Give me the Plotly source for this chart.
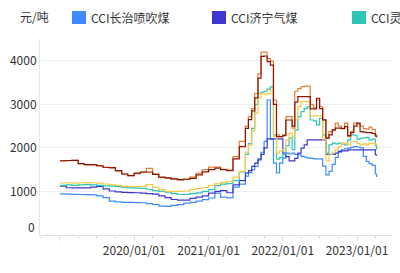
import plotly.graph_objects as go

# ---- data ----
dates = ([f"{y}-{m:02d}-01" for y in (2019, 2020) for m in range(1, 13)]
         + [f"2021-{m:02d}-01" for m in range(1, 7)])
dates += [f"{y}-{m:02d}-{d}" for (y, m) in
          [(2021, m) for m in range(7, 13)] + [(2022, m) for m in range(1, 13)] + [(2023, m) for m in range(1, 4)]
          for d in ("01", "16")]
dates += ["2023-04-01", "2023-04-07"]

series_names = ["CCI长治喷吹煤", "CCI济宁气煤", "CCI灵石肥煤", "CCI吕梁1/3焦煤", "CCI柳林低硫主焦", "CCI柳林高硫主焦"]
series_colors = ["#3D8BFF", "#3E37CF", "#2DC6B4", "#F7C948", "#E5803B", "#8B1500"]

blue = [943,940,935,930,925,920,900,860,780,760,751,750,745,740,720,700,665,659,680,698,730,751,780,812,850,960,870,851,1100,1170,
        1350,1430,1500,1574,1750,1900,2150,3100,2200,1650,1423,1650,1766,1880,1860,1880,1850,1842,1803,1790,1766,1760,1750,1750,1750,1580,1380,1460,1620,1780,1900,1956,1980,1995,2010,2032,2020,2000,1803,1689,1640,1600,
        1400,1332]
indigo = [1120,1085,1080,1080,1080,1100,1117,1060,1010,990,980,975,970,960,950,940,900,860,815,800,800,840,870,900,960,1003,1018,970,1150,1250,
          1420,1480,1574,1650,1727,1850,2000,2208,2208,2208,2208,2208,1880,1800,1700,1700,1760,1880,1995,2071,2185,2185,2185,2185,2185,2185,1850,1850,1850,1880,1918,1930,1930,1956,1956,1956,1956,1956,1956,1956,1956,1956,
          1842,1820]
teal = [1140,1150,1140,1150,1155,1150,1140,1130,1120,1110,1085,1080,1075,1070,1050,1020,1000,985,950,930,935,950,965,1000,1040,1133,1170,1180,1250,1450,
        1850,2100,2450,3000,3260,3280,3300,3350,3400,2300,1740,1780,1850,2050,2230,1960,2414,2718,2833,2900,2940,2640,2620,2530,2681,2300,1880,2071,2110,2090,2110,2090,2071,2185,2300,2290,2200,2224,2230,2240,2185,2200,
        2050,1956]
yellow = [1194,1200,1190,1200,1195,1200,1190,1171,1160,1140,1117,1117,1117,1117,1155,1094,1041,1003,1003,1003,1010,1040,1070,1090,1140,1180,1210,1231,1330,1460,
          1900,2060,2400,2800,3150,3250,3220,3250,3330,2260,1880,1930,1960,2185,2338,2260,2643,2947,3062,3062,3062,2734,2734,2734,2734,2200,1700,1842,1900,1956,2030,2110,2100,2070,2147,2147,2100,2071,2090,2071,2110,2100,
          2080,2050]
orange = [1700,1705,1715,1640,1610,1610,1585,1550,1540,1470,1395,1360,1410,1440,1530,1400,1320,1300,1285,1265,1285,1330,1420,1500,1560,1560,1510,1490,1800,2150,
          2500,2718,2900,3250,3700,4200,4200,4050,3990,3100,2300,2260,2300,2718,2718,2452,3300,3360,3405,3420,3420,3000,2920,3100,2950,2643,2224,2375,2400,2567,2500,2450,2567,2260,2380,2567,2550,2500,2440,2430,2475,2420,
          2300,2264]
darkred = [1705,1710,1715,1640,1615,1615,1590,1555,1545,1480,1400,1365,1420,1446,1446,1390,1330,1310,1290,1270,1280,1300,1380,1450,1500,1537,1500,1480,1750,2030,
           2450,2650,2850,3150,3600,4100,4110,3980,3900,3000,2260,2260,2280,2640,2640,2500,3050,3176,3176,3176,3176,2894,2894,3140,2900,2643,2224,2300,2414,2452,2452,2440,2490,2280,2350,2500,2567,2375,2360,2352,2352,2330,
           2270,2247]
series_values = [blue, indigo, teal, yellow, orange, darkred]

x_tick_vals = ["2019-01-01", "2020-01-01", "2021-01-01", "2022-01-01", "2023-01-01"]
x_tick_text = ["", "2020/01/01", "2021/01/01", "2022/01/01", "2023/01/01"]
y_tick_vals = [0, 1000, 2000, 3000, 4000]
y_tick_text = ["", "1000", "2000", "3000", "4000"]
unit_label = "元/吨"

# ---- figure ----
FONT = "Noto Sans CJK SC"
W, H = 400, 273
ML, MR, MT, MB = 40, 8, 39, 38
PW, PH = W - ML - MR, H - MT - MB

def px(xp):
    return (xp - ML) / PW

def py(yp):
    return (H - MB - yp) / PH

fig = go.Figure()
for name, color, vals in zip(series_names, series_colors, series_values):
    fig.add_trace(go.Scatter(x=dates, y=vals, name=name, mode="lines",
                             line=dict(color=color, width=1.2, shape="hv"),
                             showlegend=False))

shapes = []
annotations = []
# custom legend (scrolling legend clipped at the right edge like the original)
legend_pos = [72, 212, 352]
for i in range(3):
    x0 = legend_pos[i]
    shapes.append(dict(type="rect", xref="paper", yref="paper",
                       x0=px(x0), x1=px(x0 + 14), y0=py(24), y1=py(11),
                       fillcolor=series_colors[i], line=dict(width=0), layer="above"))
    annotations.append(dict(text=series_names[i], xref="paper", yref="paper",
                            x=px(x0 + 17), y=py(17.5), xanchor="left", yanchor="middle",
                            showarrow=False, font=dict(family=FONT, size=12, color="#333333")))
annotations.append(dict(text=unit_label, xref="paper", yref="paper",
                        x=px(18), y=py(17), xanchor="left", yanchor="middle",
                        showarrow=False, font=dict(family=FONT, size=12, color="#333333")))
annotations.append(dict(text="0", xref="paper", yref="y", x=0, y=0,
                        xanchor="right", yanchor="middle", xshift=-3, yshift=9,
                        showarrow=False, font=dict(family=FONT, size=12, color="#333333")))

fig.update_layout(
    width=W, height=H,
    margin=dict(l=ML, r=MR, t=MT, b=MB),
    paper_bgcolor="white", plot_bgcolor="white",
    font=dict(family=FONT, size=12, color="#333333"),
    shapes=shapes, annotations=annotations,
    xaxis=dict(type="date", range=["2018-09-25", "2023-06-22"],
               tickvals=x_tick_vals, ticktext=x_tick_text,
               showgrid=False, showline=True, linecolor="#e0e0e0", linewidth=1,
               ticks="outside", ticklen=5, tickcolor="#e0e0e0", tickwidth=1,
               minor=dict(dtick="M3", tick0="2019-01-01", ticks="outside", ticklen=3,
                          tickcolor="#e0e0e0", showgrid=False),
               tickfont=dict(family=FONT, size=12, color="#333333"),
               zeroline=False, fixedrange=True),
    yaxis=dict(range=[0, 4500], tickvals=y_tick_vals, ticktext=y_tick_text,
               showgrid=True, gridcolor="#eeeeee", gridwidth=1,
               showline=True, linecolor="#e6e6e6", linewidth=1,
               ticks="", tickfont=dict(family=FONT, size=12, color="#333333"),
               zeroline=False, fixedrange=True),
)

fig.write_html("out.html")
